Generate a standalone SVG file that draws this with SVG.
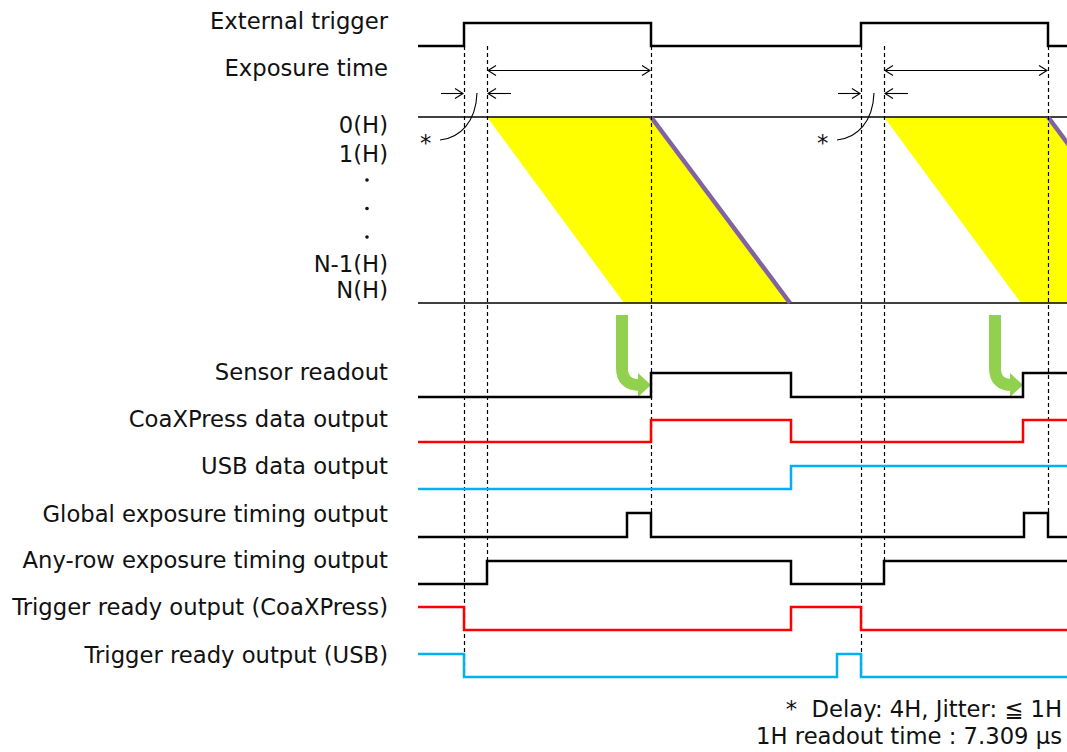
<svg xmlns="http://www.w3.org/2000/svg" width="1067" height="752" viewBox="0 0 1067 752">
<style>
text{font-family:"DejaVu Sans","Liberation Sans",sans-serif;font-size:22.7px;fill:#111;}
.lbl{text-anchor:end;}
.sig{fill:none;stroke-width:2.5;stroke-linejoin:miter;}
.k{stroke:#000;}
.r{stroke:#ff0000;}
.b{stroke:#00b0f0;}
.dash{stroke:#000;stroke-width:1.2;stroke-dasharray:4 3;fill:none;}
.thin{stroke:#000;stroke-width:1.5;fill:none;}
.arr{stroke:#000;stroke-width:1.1;fill:none;}
.yel{fill:#ffff00;}
.pur{stroke:#8064a2;stroke-width:4.5;fill:none;}
.grn{stroke:#92d050;stroke-width:12;fill:none;}
.grnh{fill:#92d050;}
.dot{fill:#111;}
</style>
<rect width="1067" height="752" fill="#fff"/>

<g id="labels">
<text class="lbl" x="388" y="29">External trigger</text>
<text class="lbl" x="388" y="76">Exposure time</text>
<text class="lbl" x="388" y="133">0(H)</text>
<text class="lbl" x="388" y="162">1(H)</text>
<circle class="dot" cx="367" cy="180" r="1.8"/>
<circle class="dot" cx="367" cy="208.5" r="1.8"/>
<circle class="dot" cx="367" cy="237" r="1.8"/>
<text class="lbl" x="388" y="272">N-1(H)</text>
<text class="lbl" x="388" y="298">N(H)</text>
<text class="lbl" x="388" y="380">Sensor readout</text>
<text class="lbl" x="388" y="427">CoaXPress data output</text>
<text class="lbl" x="388" y="474">USB data output</text>
<text class="lbl" x="388" y="522">Global exposure timing output</text>
<text class="lbl" x="388" y="568">Any-row exposure timing output</text>
<text class="lbl" x="388" y="615">Trigger ready output (CoaXPress)</text>
<text class="lbl" x="388" y="663">Trigger ready output (USB)</text>
</g>

<g id="exposure-area">
<polygon class="yel" points="487,117 651,117 790,303 624,303"/>
<polygon class="yel" points="884,117 1048,117 1187,303 1021,303"/>
<line class="thin" x1="418" y1="117" x2="1067" y2="117"/>
<line class="thin" x1="418" y1="303" x2="1067" y2="303"/>
<line class="pur" x1="651" y1="117" x2="790" y2="303"/>
<line class="pur" x1="1048" y1="117" x2="1187" y2="303"/>
</g>

<g id="connectors">
<line class="dash" x1="464.5" y1="46" x2="464.5" y2="677"/>
<line class="dash" x1="487.5" y1="46" x2="487.5" y2="561"/>
<line class="dash" x1="651.5" y1="46" x2="651.5" y2="513"/>
<line class="dash" x1="861.5" y1="46" x2="861.5" y2="677"/>
<line class="dash" x1="884.5" y1="46" x2="884.5" y2="561"/>
<line class="dash" x1="1048.5" y1="46" x2="1048.5" y2="513"/>

<!-- exposure time arrows -->
<line class="arr" x1="488" y1="70.5" x2="650" y2="70.5"/>
<polyline class="arr" points="496,65.5 488,70.5 496,75.5"/>
<polyline class="arr" points="642,65.5 650,70.5 642,75.5"/>
<line class="arr" x1="885" y1="70.5" x2="1047" y2="70.5"/>
<polyline class="arr" points="893,65.5 885,70.5 893,75.5"/>
<polyline class="arr" points="1039,65.5 1047,70.5 1039,75.5"/>

<!-- delay arrows -->
<line class="arr" x1="441" y1="93.5" x2="463" y2="93.5"/>
<polyline class="arr" points="455,88.5 463,93.5 455,98.5"/>
<line class="arr" x1="488" y1="93.5" x2="511" y2="93.5"/>
<polyline class="arr" points="496,88.5 488,93.5 496,98.5"/>
<line class="arr" x1="838" y1="93.5" x2="860" y2="93.5"/>
<polyline class="arr" points="852,88.5 860,93.5 852,98.5"/>
<line class="arr" x1="885" y1="93.5" x2="908" y2="93.5"/>
<polyline class="arr" points="893,88.5 885,93.5 893,98.5"/>

<path class="arr" d="M440,140 C460,138 476,122 477,93"/>
<path class="arr" d="M837,140 C857,138 873,122 874,93"/>

<!-- green arrows -->
<path class="grn" d="M622,315 V368 Q622,385 640,385"/>
<polygon class="grnh" points="638,373 651,385 638,397"/>
<path class="grn" d="M995,315 V368 Q995,385 1012,385"/>
<polygon class="grnh" points="1010,373 1023,385 1010,397"/>
</g>

<g id="signals">
<path class="sig k" d="M418,46 H464 V23 H651 V46 H861 V23 H1048 V46 H1067"/>
<path class="sig k" d="M418,397 H651 V373 H791 V397 H1023 V373 H1067"/>
<path class="sig r" d="M418,442 H651 V420 H791 V442 H1023 V420 H1067"/>
<path class="sig b" d="M418,489 H791 V466 H1067"/>
<path class="sig k" d="M418,537 H627 V513 H651 V537 H1024 V513 H1048 V537 H1067"/>
<path class="sig k" d="M418,584 H487 V561 H791 V584 H884 V561 H1067"/>
<path class="sig r" d="M418,607 H464 V630 H791 V607 H861 V630 H1067"/>
<path class="sig b" d="M418,654 H464 V677 H837 V654 H861 V677 H1067"/>
</g>

<g id="notes">
<text x="420" y="151">*</text>
<text x="817" y="151">*</text>
<text x="1062" y="717" text-anchor="end" xml:space="preserve">*  Delay: 4H, Jitter: ≦ 1H</text>
<text x="1062" y="744" text-anchor="end">1H readout time : 7.309 μs</text>
</g>
</svg>
